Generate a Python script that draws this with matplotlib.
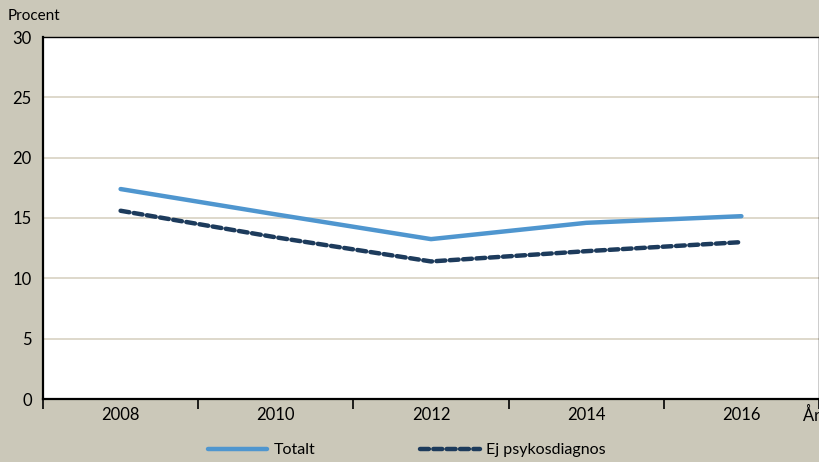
import matplotlib.pyplot as plt
import numpy as np

# data
years = ['2008', '2010', '2012', '2014', '2016']
totalt = [17.4, 15.3, 13.25, 14.6, 15.15]
ej_psykos = [15.6, 13.4, 11.4, 12.25, 13.0]

bg = '#cbc8b9'
grid_col = '#d8d2c2'

plt.rcParams['font.family'] = ['Lato', 'DejaVu Sans']

fig = plt.figure(figsize=(8.2, 4.62), dpi=100, facecolor=bg)
ax = fig.add_axes([43 / 820, 1 - 399 / 462, 776 / 820, 362 / 462])
ax.set_facecolor('white')

x = np.arange(len(years))
ax.plot(x, totalt, color='#4f96cf', linewidth=3.2, solid_capstyle='round', label='Totalt')
ax.plot(x, ej_psykos, color='#1d3b5c', linewidth=3.2, linestyle=(0, (2.0, 1.0)),
        dash_capstyle='round', label='Ej psykosdiagnos')

ax.set_xlim(-0.5, len(years) - 0.5)
ax.set_ylim(0, 30)
ax.set_yticks(range(0, 31, 5))
ax.tick_params(axis='y', length=0, labelsize=12, pad=8)
for yv in range(5, 30, 5):
    ax.axhline(yv, color=grid_col, linewidth=1.2, zorder=0)

ax.set_xticks(np.arange(-0.5, len(years)), labels=[])
ax.set_xticks(x, labels=years, minor=True)
ax.tick_params(axis='x', which='major', length=7, width=1.2, direction='out')
ax.tick_params(axis='x', which='minor', length=0, labelsize=12, pad=6)

for side in ['top', 'right']:
    ax.spines[side].set_linewidth(1.0)
for side in ['left', 'bottom']:
    ax.spines[side].set_linewidth(1.6)

fig.text(8 / 820, 1 - 16 / 462, 'Procent', fontsize=11, va='center', ha='left')
fig.text(803 / 820, 1 - 415 / 462, 'År', fontsize=12, va='center', ha='left')

fig.legend(loc='center', bbox_to_anchor=(0.496, 1 - 450 / 462), ncol=2, frameon=False,
           fontsize=11.5, handlelength=3.7, columnspacing=6.6, handletextpad=0.4)

fig.savefig('out.png', dpi=100, facecolor=bg)
